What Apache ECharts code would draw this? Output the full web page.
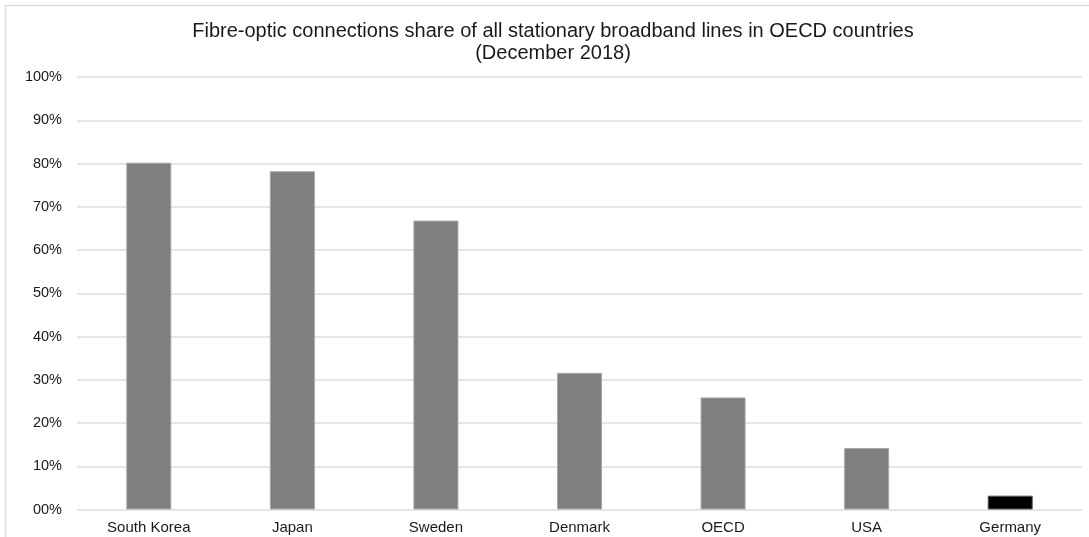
<!DOCTYPE html>
<html>
<head>
<meta charset="utf-8">
<script src="https://cdn.jsdelivr.net/npm/echarts@6/dist/echarts.min.js"></script>
<style>
  html, body { margin: 0; padding: 0; background: #fff; }
  #chart { width: 1089px; height: 537px; }
</style>
</head>
<body>
<div id="chart"></div>
<script>
// Fibre share of stationary broadband lines, December 2018 (percent)
const countries = ['South Korea', 'Japan', 'Sweden', 'Denmark', 'OECD', 'USA', 'Germany'];
const fibreShare = [80.2, 78.2, 66.8, 31.6, 25.9, 14.2, 3.2];
const highlighted = 'Germany';

const titleLines = [
  'Fibre-optic connections share of all stationary broadband lines in OECD countries',
  '(December 2018)'
];

const FONT = '"Liberation Sans", Arial, Helvetica, sans-serif';

const chart = echarts.init(document.getElementById('chart'), null, { renderer: 'canvas' });

chart.setOption({
  backgroundColor: '#fff',
  animation: false,
  textStyle: { fontFamily: FONT },
  graphic: [{
    type: 'rect',
    shape: { x: 5.5, y: 5.5, width: 1200, height: 600 },
    style: { fill: 'none', stroke: '#dcdcdc', lineWidth: 1.5 },
    silent: true
  }],
  title: {
    text: titleLines.join('\n'),
    left: 553,
    textAlign: 'center',
    top: 20,
    padding: 0,
    textStyle: {
      fontFamily: FONT,
      fontSize: 20,
      fontWeight: 'normal',
      color: '#1a1a1a',
      lineHeight: 22
    }
  },
  grid: { left: 77, right: 7, top: 77, bottom: 27.5, containLabel: false },
  xAxis: {
    type: 'category',
    data: countries,
    axisLine: { show: false },
    axisTick: { show: false },
    axisLabel: { color: '#1a1a1a', fontSize: 15, margin: 11, fontFamily: FONT }
  },
  yAxis: {
    type: 'value',
    min: 0,
    max: 100,
    interval: 10,
    axisLine: { show: false },
    axisTick: { show: false },
    splitLine: { lineStyle: { color: '#dedede', width: 1.5 } },
    axisLabel: {
      color: '#1a1a1a',
      fontSize: 14.5,
      margin: 15,
      fontFamily: FONT,
      formatter: v => String(v).padStart(2, '0') + '%'
    }
  },
  series: [{
    type: 'bar',
    barWidth: 45,
    data: countries.map((c, i) => ({
      value: fibreShare[i],
      itemStyle: c === highlighted
        ? { color: '#000', borderColor: '#555', borderWidth: 1 }
        : { color: '#7f7f7f', borderColor: '#a6a6a6', borderWidth: 1 }
    }))
  }]
});
</script>
</body>
</html>
